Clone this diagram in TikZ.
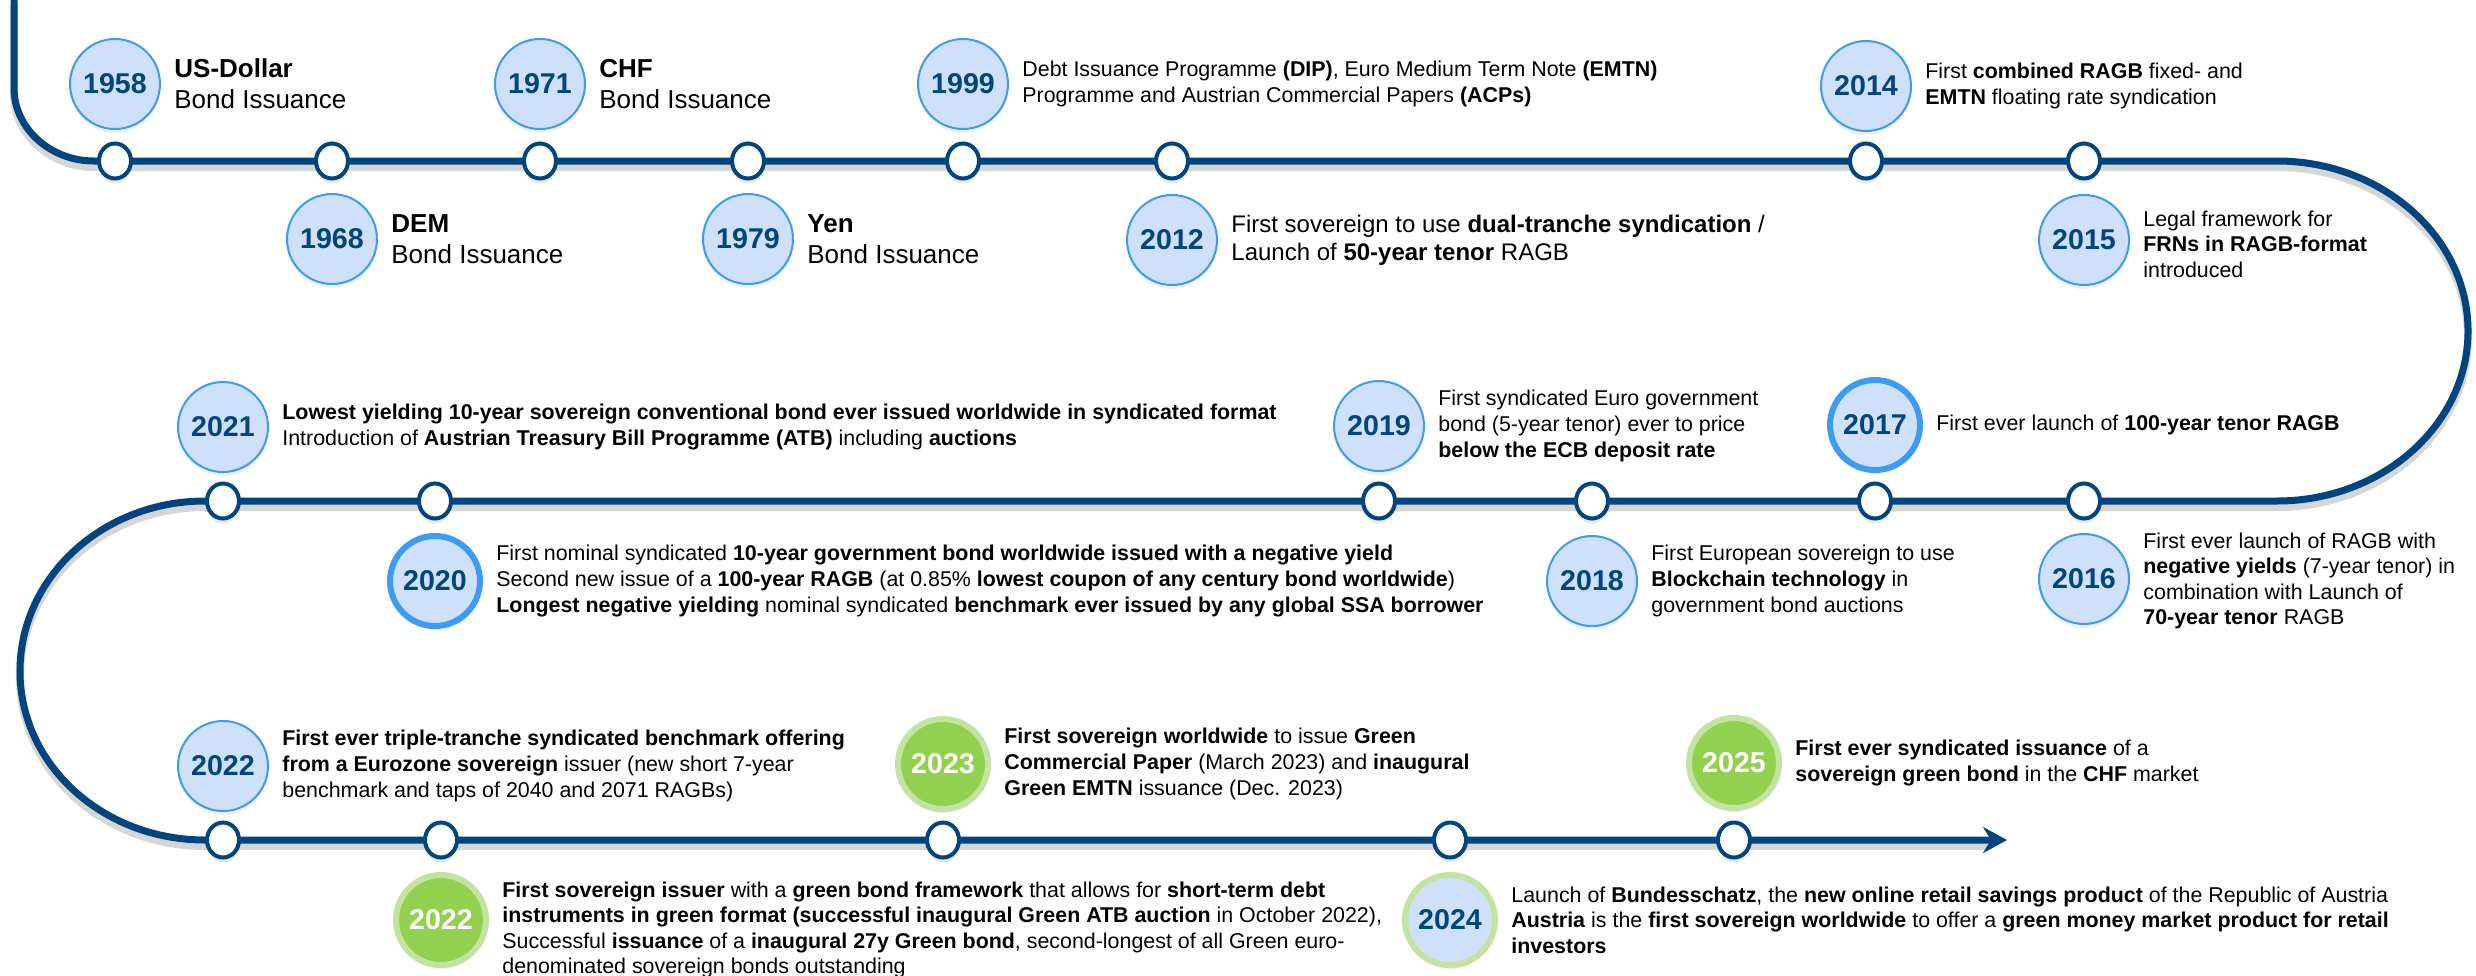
\documentclass[tikz,border=0pt]{standalone}
\usepackage{fontspec}
\setmainfont{Liberation Sans}
\usetikzlibrary{shapes.geometric,shadows,arrows.meta}
\definecolor{navy}{RGB}{0,68,128}
\definecolor{bubfill}{RGB}{207,225,250}
\definecolor{bubline}{RGB}{60,155,244}
\definecolor{grfill}{RGB}{146,208,80}
\definecolor{grline}{RGB}{195,227,160}
\begin{document}
\begin{tikzpicture}[x=0.5pt,y=-0.5pt,
  track/.style={draw=navy,line width=3.5pt},
  trackshadow/.style={draw=black!16,line width=4pt,transform canvas={yshift=-3pt}},
  dot/.style={ellipse,draw=navy,line width=2pt,fill=white,minimum width=16pt,minimum height=17.5pt,inner sep=0pt,
    drop shadow={shadow xshift=0pt,shadow yshift=-2.5pt,opacity=0.18}},
  yr/.style={ellipse,fill=bubfill,draw=bubline,line width=1pt,minimum width=43.5pt,minimum height=45pt,inner sep=0pt,
    text=navy,font=\fontsize{14.3pt}{14pt}\selectfont\bfseries,
    drop shadow={shadow xshift=0pt,shadow yshift=-2pt,opacity=0.12}},
  yrthick/.style={yr,line width=3pt},
  yrgreen/.style={yr,fill=grfill,draw=grline,line width=3pt,text=white},
  yrmix/.style={yr,draw=grline,line width=3pt},
  desc/.style={anchor=west,align=left,inner sep=0pt,font=\fontsize{10.7pt}{12.8pt}\selectfont},
  descbig/.style={desc,font=\fontsize{13pt}{15.5pt}\selectfont},
  descmid/.style={desc,font=\fontsize{12pt}{14pt}\selectfont},
]
\useasboundingbox (0,0) rectangle (2476,975);
\coordinate (start) at (14,0);
\coordinate (end) at (2007,840);
% shadow of the track
\draw[trackshadow] (14,0) -- (14,88) .. controls (14,128) and (50,161) .. (94,161) -- (2277,161)
  .. controls (2382,161) and (2468,237) .. (2468,331) .. controls (2468,425) and (2382,501) .. (2277,501)
  -- (205,501) .. controls (103,501) and (20,577) .. (20,671) .. controls (20,765) and (103,840) .. (205,840)
  -- (1990,840);
% track
\draw[track,-{Stealth[length=12pt,width=13pt,inset=4pt]}] (start) -- (14,88) .. controls (14,128) and (50,161) .. (94,161) -- (2277,161)
  .. controls (2382,161) and (2468,237) .. (2468,331) .. controls (2468,425) and (2382,501) .. (2277,501)
  -- (205,501) .. controls (103,501) and (20,577) .. (20,671) .. controls (20,765) and (103,840) .. (205,840)
  -- (end);
% dots
\foreach \n/\x in {a/115,b/332,c/540,d/748,e/963,f/1172,g/1866,h/2084}
  \node[dot] (r1\n) at (\x,161) {};
\foreach \n/\x in {a/223,b/435,c/1379,d/1592,e/1875,f/2084}
  \node[dot] (r2\n) at (\x,501) {};
\foreach \n/\x in {a/223,b/441,c/943,d/1450,e/1734}
  \node[dot] (r3\n) at (\x,840) {};

% row 1
\node[yr] (y1958) at (115,84) {1958};
\node[descbig] (t1958) at ([xshift=6.5pt]y1958.east) {\textbf{US-Dollar}\\Bond Issuance};
\node[yr] (y1968) at (332,239) {1968};
\node[descbig] (t1968) at ([xshift=6.5pt]y1968.east) {\textbf{DEM}\\Bond Issuance};
\node[yr] (y1971) at (540,84) {1971};
\node[descbig] (t1971) at ([xshift=6.5pt]y1971.east) {\textbf{CHF}\\Bond Issuance};
\node[yr] (y1979) at (748,239) {1979};
\node[descbig] (t1979) at ([xshift=6.5pt]y1979.east) {\textbf{Yen}\\Bond Issuance};
\node[yr] (y1999) at (963,84) {1999};
\node[desc] (t1999) at ([xshift=6.5pt]y1999.east) {Debt Issuance Programme \textbf{(DIP)}, Euro Medium Term Note \textbf{(EMTN)}\\Programme and Austrian Commercial Papers \textbf{(ACPs)}};
\node[yr] (y2012) at (1172,240) {2012};
\node[descmid] (t2012) at ([xshift=6.5pt]y2012.east) {First sovereign to use \textbf{dual-tranche syndication} /\\Launch of \textbf{50-year tenor} RAGB};
\node[yr] (y2014) at (1866,86) {2014};
\node[desc] (t2014) at ([xshift=6.5pt]y2014.east) {First \textbf{combined RAGB} fixed- and\\\textbf{EMTN} floating rate syndication};
\node[yr] (y2015) at (2084,240) {2015};
\node[desc] (t2015) at ([xshift=6.5pt,yshift=-2pt]y2015.east) {Legal framework for\\\textbf{FRNs in RAGB-format}\\introduced};

% row 2
\node[yr] (y2021) at (223,427) {2021};
\node[desc] (t2021) at ([xshift=6.5pt]y2021.east) {\textbf{Lowest yielding 10-year sovereign conventional bond ever issued worldwide in syndicated format}\\Introduction of \textbf{Austrian Treasury Bill Programme (ATB)} including \textbf{auctions}};
\node[yrthick] (y2020) at (435,581) {2020};
\node[desc] (t2020) at ([xshift=6.5pt]y2020.east) {First nominal syndicated \textbf{10-year government bond worldwide issued with a negative yield}\\Second new issue of a \textbf{100-year RAGB} (at 0.85\% \textbf{lowest coupon of any century bond worldwide})\\\textbf{Longest negative yielding} nominal syndicated \textbf{benchmark ever issued by any global SSA borrower}};
\node[yr] (y2019) at (1379,426) {2019};
\node[desc] (t2019) at ([xshift=6.5pt]y2019.east) {First syndicated Euro government\\bond (5-year tenor) ever to price\\\textbf{below the ECB deposit rate}};
\node[yr] (y2018) at (1592,581) {2018};
\node[desc] (t2018) at ([xshift=6.5pt]y2018.east) {First European sovereign to use\\\textbf{Blockchain technology} in\\government bond auctions};
\node[yrthick] (y2017) at (1875,425) {2017};
\node[desc] (t2017) at ([xshift=6.5pt]y2017.east) {First ever launch of \textbf{100-year tenor RAGB}};
\node[yr] (y2016) at (2084,579) {2016};
\node[desc] (t2016) at ([xshift=6.5pt,yshift=-1pt]y2016.east) {First ever launch of RAGB with\\\textbf{negative yields} (7-year tenor) in\\combination with Launch of\\\textbf{70-year tenor} RAGB};

% row 3
\node[yr] (y2022a) at (223,766) {2022};
\node[desc] (t2022a) at ([xshift=6.5pt]y2022a.east) {\textbf{First ever triple-tranche syndicated benchmark offering}\\\textbf{from a Eurozone sovereign} issuer (new short 7-year\\benchmark and taps of 2040 and 2071 RAGBs)};
\node[yrgreen] (y2022b) at (441,920) {2022};
\node[desc] (t2022b) at ([xshift=6.5pt,yshift=-5pt]y2022b.east) {\textbf{First sovereign issuer} with a \textbf{green bond framework} that allows for \textbf{short-term debt}\\\textbf{instruments in green format (successful inaugural Green ATB auction} in October 2022),\\Successful \textbf{issuance} of a \textbf{inaugural 27y Green bond}, second-longest of all Green euro-\\denominated sovereign bonds outstanding};
\node[yrgreen] (y2023) at (943,764) {2023};
\node[desc] (t2023) at ([xshift=6.5pt]y2023.east) {\textbf{First sovereign worldwide} to issue \textbf{Green}\\\textbf{Commercial Paper} (March 2023) and \textbf{inaugural}\\\textbf{Green EMTN} issuance (Dec. 2023)};
\node[yrmix] (y2024) at (1450,920) {2024};
\node[desc] (t2024) at ([xshift=6.5pt]y2024.east) {Launch of \textbf{Bundesschatz}, the \textbf{new online retail savings product} of the Republic of Austria\\\textbf{Austria} is the \textbf{first sovereign worldwide} to offer a \textbf{green money market product for retail}\\\textbf{investors}};
\node[yrgreen] (y2025) at (1734,763) {2025};
\node[desc] (t2025) at ([xshift=6.5pt]y2025.east) {\textbf{First ever syndicated issuance} of a\\\textbf{sovereign green bond} in the \textbf{CHF} market};
\end{tikzpicture}
\end{document}
